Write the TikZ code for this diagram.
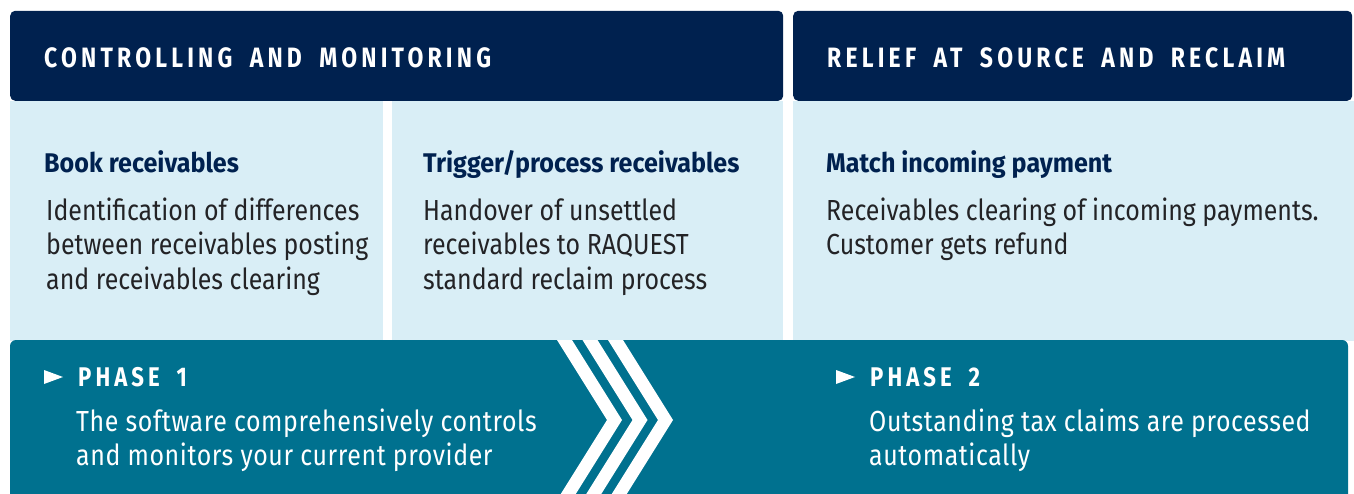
\documentclass[tikz,border=0pt]{standalone}
\usepackage{fontspec}
\setmainfont{Fira Sans}[FakeStretch=0.86]
\newfontfamily\capsfont{Fira Sans}[LetterSpace=15,WordSpace=1.8,FakeStretch=0.82]
\newfontfamily\headfont{Fira Sans}[FakeStretch=0.93]
\newfontfamily\phasefont{Fira Sans}[LetterSpace=2,FakeStretch=0.86]
\usetikzlibrary{positioning}
\definecolor{navyDeep}{RGB}{0, 33, 79}
\definecolor{skyLight}{RGB}{217, 238, 246}
\definecolor{tealBand}{RGB}{0, 113, 143}
\definecolor{inkDark}{RGB}{35, 35, 38}

\begin{document}
\begin{tikzpicture}[x=1pt, y=1pt,
    hdrbox/.style={fill=navyDeep, rounded corners=5pt, anchor=south west,
        inner sep=0pt, minimum height=90pt},
    hdrtxt/.style={anchor=base west, inner sep=0pt, text=white,
        font=\capsfont\bfseries\fontsize{28}{32}\selectfont},
    panel/.style={fill=skyLight, anchor=south west, inner sep=0pt, minimum height=240pt},
    ttl/.style={anchor=base west, inner sep=0pt, text=navyDeep,
        font=\headfont\bfseries\fontsize{27}{30}\selectfont},
    body/.style={anchor=base west, inner sep=0pt, text=inkDark, align=left,
        font=\fontsize{29}{34}\selectfont},
    phase/.style={anchor=base west, inner sep=0pt, text=white,
        font=\capsfont\bfseries\fontsize{27}{30}\selectfont},
    phasetxt/.style={body, text=white, font=\phasefont\fontsize{29}{34}\selectfont}]
  \useasboundingbox (0,0) rectangle (1354,493);

  % light panels
  \node[panel, minimum width=373pt] (panBook) at (10,152) {};
  \node[panel, minimum width=391pt] (panTrig) at (392,152) {};
  \node[panel, minimum width=561pt] (panMatch) at (793,152) {};

  % headers
  \node[hdrbox, minimum width=773pt] (hdrCtl) at (10,392) {};
  \node[hdrbox, minimum width=559pt] (hdrRel) at (793,392) {};
  \node[hdrtxt] (capCtl) at (44,425) {CONTROLLING AND MONITORING};
  \node[hdrtxt] (capRel) at (827,425) {RELIEF AT SOURCE AND RECLAIM};

  % column texts (multi-line nodes sit on their last baseline)
  \node[ttl] (ttlBook) at (44,320) {Book receivables};
  \node[body] (txtBook) at (46,204) {Identification of differences\\between receivables posting\\and receivables clearing};
  \node[ttl] (ttlTrig) at (423,320) {Trigger/process receivables};
  \node[body] (txtTrig) at (423,204) {Handover of unsettled\\receivables to RAQUEST\\standard reclaim process};
  \node[ttl] (ttlMatch) at (826,320) {Match incoming payment};
  \node[body] (txtMatch) at (826,238) {Receivables clearing of incoming payments.\\Customer gets refund};

  % phase band
  \fill[tealBand, rounded corners=6pt] (10,-20) rectangle (1348,153);
  \foreach \cx in {557,582.5,608}
    \fill[white] (\cx,153) -- ++(15,0) -- ++(50,-80) -- ++(-50,-80) -- ++(-15,0) -- ++(50,80) -- cycle;

  \fill[white] (44,123) -- (63,116) -- (44,109) -- cycle;
  \node[phase] (phOne) at (78,107) {PHASE 1};
  \node[phasetxt] (txtOne) at (76,28) {The software comprehensively controls\\and monitors your current provider};

  \fill[white] (836,123) -- (855,116) -- (836,109) -- cycle;
  \node[phase] (phTwo) at (870,107) {PHASE 2};
  \node[phasetxt] (txtTwo) at (869,28) {Outstanding tax claims are processed\\automatically};
\end{tikzpicture}
\end{document}
